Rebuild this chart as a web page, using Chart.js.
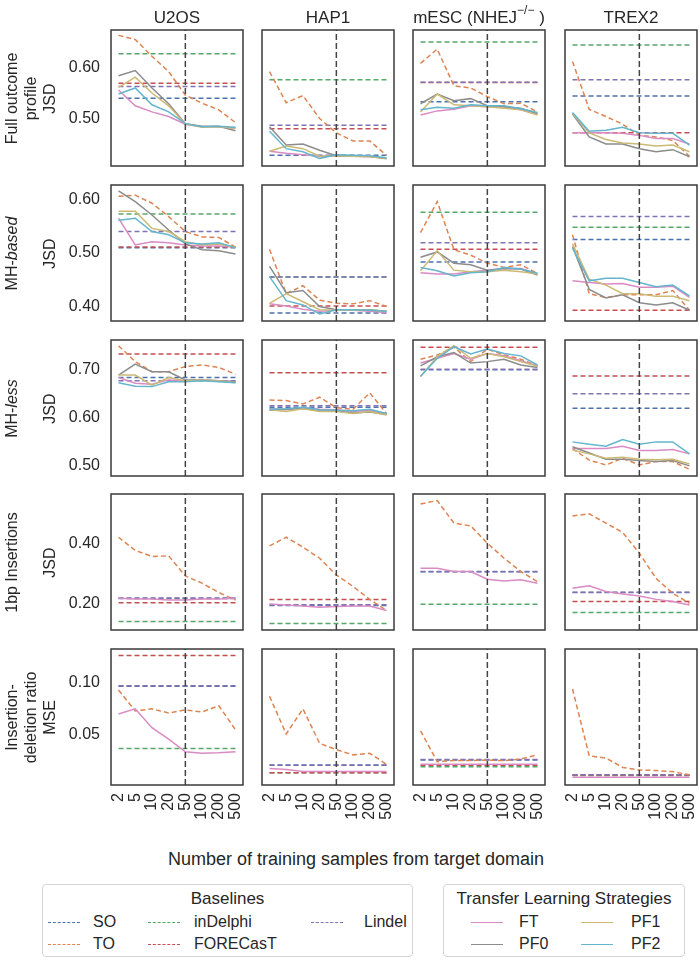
<!DOCTYPE html>
<html>
<head>
<meta charset="utf-8">
<script src="https://cdn.jsdelivr.net/npm/chart.js@4.4.1/dist/chart.umd.min.js"></script>
<style>
  body { margin: 0; background: #fff; font-family: "Liberation Sans", Arial, sans-serif; color: #262626; }
  #fig { position: relative; width: 700px; height: 961px; overflow: hidden; }
  .panel { position: absolute; }
  .coltitle { position: absolute; top: 7px; width: 160px; text-align: center; font-size: 17px; line-height: 22px; white-space: nowrap; }
  .coltitle sup { font-size: 12px; vertical-align: 9px; line-height: 0; }
  .rowlabel { position: absolute; width: 170px; height: 57px; text-align: center; font-size: 16px; line-height: 19px; transform: rotate(-90deg); white-space: nowrap; }
  .xtitle { position: absolute; left: 0; width: 712px; top: 848px; text-align: center; font-size: 18px; line-height: 22px; }
  .legend { position: absolute; top: 884px; height: 73px; border: 1px solid #d6d6d6; border-radius: 4px; box-sizing: border-box; }
  .legend .ttl { position: absolute; left: 0; right: 0; top: 3px; text-align: center; font-size: 17px; line-height: 22px; }
  .legend .item { position: absolute; font-size: 16px; line-height: 20px; white-space: nowrap; }
  .legend .sw { position: absolute; width: 32px; height: 0; top: 10px; }
</style>
</head>
<body>
<div id="fig">
  <div class="xtitle">Number of training samples from target domain</div>
  <div class="legend" style="left:42px;width:371px;">
    <div class="ttl">Baselines</div>
    <div class="item" style="left:5px;top:27px;"><span class="sw" style="border-top:1px dashed #4c72b0"></span><span style="margin-left:45px">SO</span></div>
    <div class="item" style="left:5px;top:49px;"><span class="sw" style="border-top:1px dashed #dd8452"></span><span style="margin-left:45px">TO</span></div>
    <div class="item" style="left:105px;top:27px;"><span class="sw" style="border-top:1px dashed #55a868"></span><span style="margin-left:46px">inDelphi</span></div>
    <div class="item" style="left:105px;top:49px;"><span class="sw" style="border-top:1px dashed #c44e52"></span><span style="margin-left:46px">FORECasT</span></div>
    <div class="item" style="left:268px;top:27px;"><span class="sw" style="border-top:1px dashed #8172b3"></span><span style="margin-left:53px">Lindel</span></div>
  </div>
  <div class="legend" style="left:443px;width:242px;">
    <div class="ttl">Transfer Learning Strategies</div>
    <div class="item" style="left:27px;top:27px;"><span class="sw" style="border-top:1.5px solid #da8bc3"></span><span style="margin-left:48px">FT</span></div>
    <div class="item" style="left:27px;top:49px;"><span class="sw" style="border-top:1.5px solid #8c8c8c"></span><span style="margin-left:48px">PF0</span></div>
    <div class="item" style="left:137px;top:27px;"><span class="sw" style="border-top:1.5px solid #ccb974"></span><span style="margin-left:50px">PF1</span></div>
    <div class="item" style="left:137px;top:49px;"><span class="sw" style="border-top:1.5px solid #64b5cd"></span><span style="margin-left:50px">PF2</span></div>
  </div>
</div>
<script>
// x categories (training samples from target domain)
const xLabels = ["2", "5", "10", "20", "50", "100", "200", "500"];
const colNames = ["U2OS", "HAP1", "mESC (NHEJ<sup>\u2212/\u2212</sup> )", "TREX2"];
const rowLabels = [
  ["Full outcome", "profile", "JSD"],
  ["MH-<i>based</i>", "", "JSD"],
  ["MH-<i>less</i>", "", "JSD"],
  ["1bp Insertions", "", "JSD"],
  ["Insertion-", "deletion ratio", "MSE"]
];
const yTicks = [[0.5, 0.6], [0.4, 0.5, 0.6], [0.5, 0.6, 0.7], [0.2, 0.4], [0.05, 0.1]];
const yRanges = [[0.408, 0.6745], [0.373, 0.627], [0.478, 0.761], [0.111, 0.564], [0.0022, 0.1322]];
const cutoffIndex = 4; // 50 samples

// baselines, [row][col]
const SO = [
  [0.541, 0.429, 0.534, 0.545],
  [0.510, 0.388, 0.483, 0.525],
  [0.683, 0.621, 0.699, 0.619],
  [0.216, 0.193, 0.305, 0.236],
  [0.0965, 0.021, 0.026, 0.0115]
];
const inDelphi = [
  [0.628, 0.577, 0.651, 0.645],
  [0.573, 0.455, 0.576, 0.548],
  [null, null, null, null],
  [0.139, 0.133, 0.197, 0.169],
  [0.037, 0.0138, 0.0197, 0.0113]
];
const FORECasT = [
  [0.570, 0.481, 0.5715, 0.473],
  [0.511, 0.401, 0.507, 0.393],
  [0.732, 0.693, 0.746, 0.686],
  [0.202, 0.213, null, 0.206],
  [0.126, 0.014, 0.021, 0.0118]
];
const Lindel = [
  [0.564, 0.488, 0.572, 0.577],
  [0.540, 0.455, 0.519, 0.568],
  [0.676, 0.624, 0.700, 0.649],
  [0.218, 0.195, 0.306, 0.237],
  [0.097, 0.0212, 0.0265, 0.012]
];

// target-only baseline, [row][col] -> 8 values
const TO = [
  [[0.664, 0.656, 0.623, 0.593, 0.547, 0.531, 0.518, 0.493],
   [0.593, 0.532, 0.546, 0.501, 0.473, 0.457, 0.457, 0.429],
   [0.609, 0.637, 0.565, 0.561, 0.544, 0.530, 0.531, 0.514],
   [0.613, 0.519, 0.505, 0.490, 0.468, 0.465, 0.458, 0.427]],
  [[0.606, 0.608, 0.593, 0.568, 0.540, 0.530, 0.529, 0.511],
   [0.507, 0.424, 0.439, 0.412, 0.406, 0.405, 0.411, 0.400],
   [0.538, 0.596, 0.506, 0.496, 0.481, 0.473, 0.478, 0.462],
   [0.534, 0.424, 0.417, 0.422, 0.422, 0.422, 0.430, 0.393]],
  [[0.749, 0.716, 0.695, 0.695, 0.706, 0.709, 0.704, 0.690],
   [0.636, 0.635, 0.628, 0.642, 0.620, 0.617, 0.651, 0.608],
   [0.721, 0.730, 0.746, 0.716, 0.742, 0.730, 0.721, 0.707],
   [0.535, 0.511, 0.501, 0.515, 0.501, 0.508, 0.508, 0.492]],
  [[0.420, 0.376, 0.356, 0.358, 0.291, 0.267, 0.236, 0.211],
   [0.391, 0.420, 0.387, 0.350, 0.294, 0.256, 0.213, 0.176],
   [0.531, 0.542, 0.467, 0.458, 0.400, 0.350, 0.306, 0.272],
   [0.491, 0.498, 0.467, 0.436, 0.367, 0.283, 0.233, 0.200]],
  [[0.093, 0.073, 0.075, 0.071, 0.074, 0.072, 0.078, 0.055],
   [0.087, 0.051, 0.075, 0.042, 0.036, 0.031, 0.0325, 0.022],
   [0.054, 0.0245, 0.0255, 0.0255, 0.026, 0.0255, 0.027, 0.031],
   [0.094, 0.030, 0.028, 0.019, 0.0166, 0.016, 0.015, 0.012]]
];

// transfer learning strategies
const FT = [
  [[0.557, 0.526, 0.514, 0.505, 0.490, 0.485, 0.485, 0.482],
   [0.437, 0.433, 0.430, 0.427, 0.428, 0.427, 0.426, 0.423],
   [0.508, 0.516, 0.519, 0.526, 0.524, 0.524, 0.518, 0.510],
   [0.473, 0.473, 0.473, 0.472, 0.468, 0.462, 0.462, 0.451]],
  [[0.565, 0.515, 0.521, 0.519, 0.515, 0.513, 0.513, 0.511],
   [0.405, 0.401, 0.395, 0.391, 0.393, 0.393, 0.391, 0.389],
   [0.463, 0.461, 0.461, 0.465, 0.468, 0.471, 0.471, 0.461],
   [0.448, 0.445, 0.442, 0.443, 0.436, 0.436, 0.438, 0.417]],
  [[0.683, 0.671, 0.669, 0.678, 0.676, 0.678, 0.676, 0.674],
   [0.618, 0.616, 0.620, 0.617, 0.616, 0.612, 0.615, 0.606],
   [0.713, 0.723, 0.733, 0.721, 0.733, 0.728, 0.718, 0.707],
   [0.535, 0.535, 0.535, 0.540, 0.531, 0.531, 0.533, 0.524]],
  [[0.217, 0.214, 0.214, 0.211, 0.211, 0.214, 0.214, 0.217],
   [0.198, 0.194, 0.191, 0.187, 0.189, 0.191, 0.191, 0.176],
   [0.317, 0.317, 0.306, 0.306, 0.280, 0.274, 0.278, 0.267],
   [0.250, 0.258, 0.239, 0.231, 0.224, 0.213, 0.206, 0.194]],
  [[0.070, 0.075, 0.057, 0.046, 0.034, 0.0325, 0.033, 0.034],
   [0.018, 0.017, 0.015, 0.015, 0.015, 0.015, 0.015, 0.015],
   [0.022, 0.022, 0.022, 0.022, 0.022, 0.022, 0.022, 0.022],
   [0.0095, 0.0095, 0.0095, 0.0095, 0.0095, 0.0095, 0.0095, 0.0095]]
];
const PF0 = [
  [[0.585, 0.595, 0.561, 0.530, 0.491, 0.486, 0.486, 0.477],
   [0.485, 0.449, 0.451, 0.439, 0.428, 0.428, 0.427, 0.422],
   [0.530, 0.549, 0.536, 0.540, 0.526, 0.524, 0.521, 0.511],
   [0.510, 0.465, 0.451, 0.451, 0.442, 0.436, 0.440, 0.426]],
  [[0.616, 0.596, 0.571, 0.543, 0.517, 0.506, 0.504, 0.498],
   [0.475, 0.426, 0.430, 0.400, 0.394, 0.394, 0.394, 0.391],
   [0.492, 0.502, 0.481, 0.478, 0.468, 0.471, 0.470, 0.459],
   [0.512, 0.432, 0.416, 0.422, 0.407, 0.403, 0.407, 0.393]],
  [[0.688, 0.711, 0.695, 0.695, 0.678, 0.678, 0.676, 0.674],
   [0.615, 0.617, 0.619, 0.614, 0.613, 0.609, 0.611, 0.606],
   [0.707, 0.726, 0.735, 0.713, 0.716, 0.721, 0.709, 0.704],
   [0.539, 0.526, 0.513, 0.513, 0.510, 0.508, 0.510, 0.499]],
  [null, null, null, null],
  [null, null, null, null]
];
const PF1 = [
  [[0.562, 0.582, 0.551, 0.526, 0.490, 0.484, 0.485, 0.482],
   [0.437, 0.447, 0.442, 0.427, 0.428, 0.427, 0.426, 0.423],
   [0.514, 0.549, 0.528, 0.526, 0.524, 0.521, 0.518, 0.508],
   [0.511, 0.473, 0.460, 0.453, 0.451, 0.447, 0.449, 0.436]],
  [[0.578, 0.578, 0.546, 0.540, 0.521, 0.515, 0.517, 0.511],
   [0.406, 0.424, 0.409, 0.394, 0.393, 0.394, 0.393, 0.391],
   [0.467, 0.504, 0.468, 0.465, 0.465, 0.468, 0.465, 0.461],
   [0.517, 0.451, 0.440, 0.424, 0.424, 0.419, 0.419, 0.411]],
  [[0.688, 0.688, 0.667, 0.683, 0.676, 0.678, 0.676, 0.672],
   [0.616, 0.612, 0.618, 0.612, 0.612, 0.608, 0.612, 0.605],
   [0.685, 0.726, 0.749, 0.723, 0.733, 0.726, 0.716, 0.707],
   [0.532, 0.524, 0.515, 0.517, 0.513, 0.512, 0.513, 0.503]],
  [null, null, null, null],
  [null, null, null, null]
];
const PF2 = [
  [[0.549, 0.561, 0.528, 0.514, 0.491, 0.485, 0.486, 0.484],
   [0.476, 0.442, 0.436, 0.423, 0.430, 0.429, 0.428, 0.424],
   [0.518, 0.523, 0.521, 0.528, 0.526, 0.526, 0.520, 0.513],
   [0.513, 0.476, 0.478, 0.484, 0.473, 0.472, 0.472, 0.449]],
  [[0.561, 0.565, 0.540, 0.534, 0.519, 0.517, 0.519, 0.510],
   [0.456, 0.411, 0.403, 0.386, 0.394, 0.394, 0.393, 0.391],
   [0.473, 0.467, 0.457, 0.463, 0.465, 0.473, 0.470, 0.462],
   [0.509, 0.448, 0.453, 0.453, 0.445, 0.437, 0.440, 0.420]],
  [[0.672, 0.665, 0.664, 0.674, 0.674, 0.676, 0.674, 0.672],
   [0.617, 0.618, 0.621, 0.616, 0.615, 0.614, 0.617, 0.608],
   [0.685, 0.723, 0.747, 0.732, 0.742, 0.733, 0.728, 0.709],
   [0.549, 0.544, 0.540, 0.554, 0.544, 0.549, 0.549, 0.524]],
  [null, null, null, null],
  [null, null, null, null]
];

const COLORS = {
  SO: "#4c72b0", TO: "#dd8452", inDelphi: "#55a868", FORECasT: "#c44e52", Lindel: "#8172b3",
  FT: "#da8bc3", PF0: "#8c8c8c", PF1: "#ccb974", PF2: "#64b5cd"
};
const FONT = "'Liberation Sans', Arial, sans-serif";

// grid layout of the panels
const colLeft = [111, 262, 413, 565];
const rowTop = [30, 185, 340, 494, 649];
const PW = 132, PH = 136, PAD = 6;

Chart.defaults.font.family = FONT;
Chart.defaults.color = "#262626";
Chart.defaults.elements.point.radius = 0;
Chart.defaults.elements.line.tension = 0;

const frame = {
  id: "frame",
  afterDatasetsDraw(chart) {
    const { ctx, chartArea: a } = chart;
    ctx.save();
    ctx.strokeStyle = "#3a3a3a";
    ctx.lineWidth = 1.5;
    ctx.strokeRect(a.left, a.top, a.right - a.left, a.bottom - a.top);
    ctx.restore();
  }
};

const fig = document.getElementById("fig");

function series(values) {
  return values.map((v, i) => ({ x: i, y: v }));
}

function flat(v) {
  return [{ x: 0, y: v }, { x: xLabels.length - 1, y: v }];
}

function makePanel(r, c) {
  const yAxisW = c === 0 ? 60 : 0;
  const xAxisH = r === 4 ? 50 : 0;
  const w = PW + yAxisW + 2 * PAD;
  const h = PH + xAxisH + 2 * PAD;

  const div = document.createElement("div");
  div.className = "panel";
  div.style.left = (colLeft[c] - yAxisW - PAD) + "px";
  div.style.top = (rowTop[r] - PAD) + "px";
  div.style.width = w + "px";
  div.style.height = h + "px";
  const canvas = document.createElement("canvas");
  canvas.width = w;
  canvas.height = h;
  canvas.style.width = w + "px";
  canvas.style.height = h + "px";
  div.appendChild(canvas);
  fig.appendChild(div);

  const datasets = [];
  // vertical marker at 50 samples
  datasets.push({
    data: [{ x: cutoffIndex, y: yRanges[r][0] }, { x: cutoffIndex, y: yRanges[r][1] }],
    borderColor: "#444", borderWidth: 1.5, borderDash: [6, 3]
  });
  [["PF2", PF2], ["PF1", PF1], ["PF0", PF0], ["FT", FT]].forEach(([name, arr]) => {
    if (arr[r] && arr[r][c]) {
      datasets.push({ data: series(arr[r][c]), borderColor: COLORS[name], borderWidth: 1.5 });
    }
  });
  datasets.push({ data: series(TO[r][c]), borderColor: COLORS.TO, borderWidth: 1.5, borderDash: [5, 3] });
  [["Lindel", Lindel], ["FORECasT", FORECasT], ["inDelphi", inDelphi], ["SO", SO]].forEach(([name, arr]) => {
    const v = arr[r][c];
    if (v !== null) {
      datasets.push({ data: flat(v), borderColor: COLORS[name], borderWidth: 1.5, borderDash: [5, 3] });
    }
  });

  new Chart(canvas, {
    type: "line",
    data: { datasets },
    options: {
      responsive: false,
      animation: false,
      layout: { padding: PAD },
      plugins: { legend: { display: false }, tooltip: { enabled: false } },
      scales: {
        x: {
          type: "linear",
          min: -0.45,
          max: 7.45,
          display: r === 4,
          grid: { display: false, drawTicks: false },
          border: { display: false },
          afterBuildTicks: (ax) => { ax.ticks = xLabels.map((_, i) => ({ value: i })); },
          afterFit: (ax) => {
            if (r === 4) ax.height = xAxisH;
            ax.paddingLeft = 0; ax.paddingRight = 0;
          },
          ticks: {
            autoSkip: false, minRotation: 90, maxRotation: 90, padding: 8,
            font: { size: 16 }, color: "#262626",
            callback: (v, i) => xLabels[i]
          }
        },
        y: {
          min: yRanges[r][0],
          max: yRanges[r][1],
          display: c === 0,
          grid: { display: false, drawTicks: false },
          border: { display: false },
          afterBuildTicks: (ax) => { ax.ticks = yTicks[r].map((v) => ({ value: v })); },
          afterFit: (ax) => {
            if (c === 0) ax.width = yAxisW;
            ax.paddingTop = 0; ax.paddingBottom = 0;
          },
          ticks: {
            padding: 11, font: { size: 16 }, color: "#262626",
            callback: (v) => v.toFixed(2)
          }
        }
      }
    },
    plugins: [frame]
  });
}

for (let r = 0; r < 5; r++) {
  for (let c = 0; c < 4; c++) makePanel(r, c);
}

colNames.forEach((name, c) => {
  const t = document.createElement("div");
  t.className = "coltitle";
  t.style.left = (colLeft[c] + PW / 2 - 80) + "px";
  t.innerHTML = name;
  fig.appendChild(t);
});

rowLabels.forEach((lines, r) => {
  const d = document.createElement("div");
  d.className = "rowlabel";
  const cy = rowTop[r] + PH / 2;
  d.style.left = (30 - 85) + "px";
  d.style.top = (cy - 28.5) + "px";
  d.innerHTML = lines.map((l) => "<div>" + (l || "&nbsp;") + "</div>").join("");
  fig.appendChild(d);
});
</script>
</body>
</html>
